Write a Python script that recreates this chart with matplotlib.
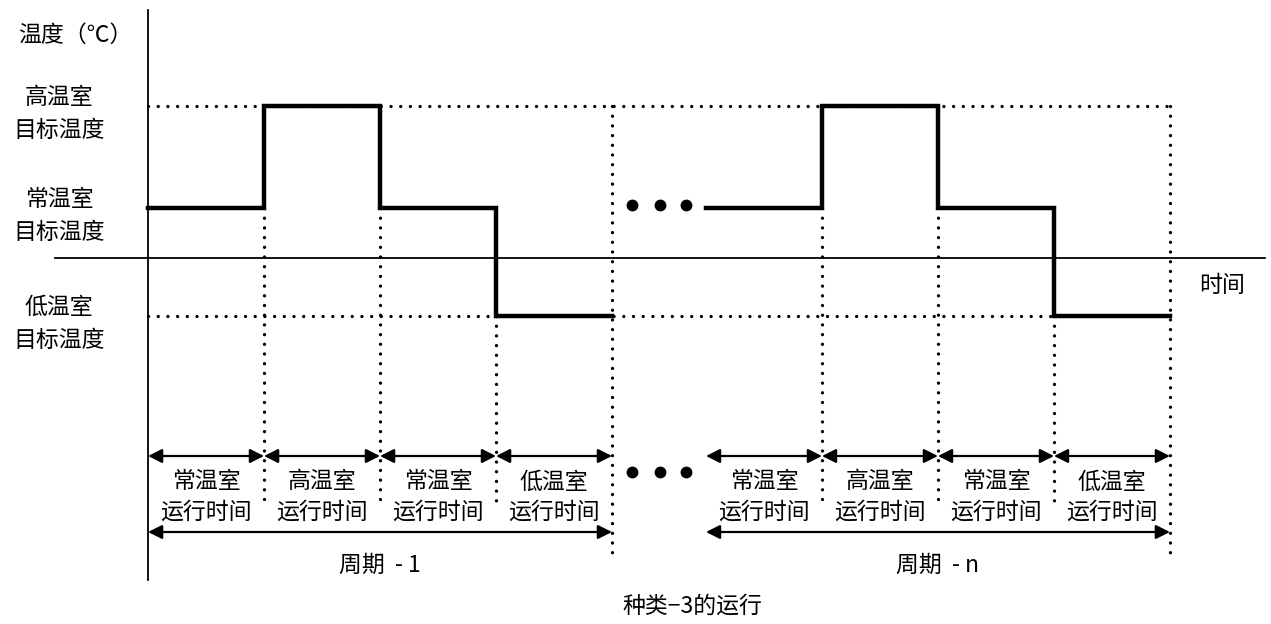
import matplotlib
matplotlib.use("Agg")
import matplotlib.pyplot as plt

plt.rcParams['font.family'] = ['Noto Sans CJK SC', 'DejaVu Sans']

#   ///////   data   ///////
# time in phase units (one phase = 1), temperature in arbitrary levels
cycle_starts = [0.0, 4.81]
phase_names = ['常温室', '高温室', '常温室', '低温室']
levels = {'high': 3.04, 'normal': 1.0, 'low': -1.16}
phase_levels = ['normal', 'high', 'normal', 'low']
cycle_labels = ['周期  - 1', '周期  - n']
level_labels = ['高温室\n目标温度', '常温室\n目标温度', '低温室\n目标温度']
ellipsis_x = [4.17, 4.41, 4.64]

# layout levels (same units)
y_arrow = -3.96
y_period = -5.48
#   ///////     ///////

fig = plt.figure(figsize=(12.71, 6.24), dpi=100)
ax = fig.add_axes([0, 0, 1, 1])
ax.set_xlim(-1.276, 9.681)
ax.set_ylim(-7.32, 5.16)
ax.axis('off')

fs = 16.5
dot = dict(color='black', lw=2.4, linestyle=(0, (0.01, 2.9)),
           dash_capstyle='round', solid_capstyle='round')
arr = dict(arrowstyle='<|-|>', color='black', lw=1.6,
           mutation_scale=21, shrinkA=0, shrinkB=0)

# axes
ax.plot([0, 0], [-6.44, 4.96], color='black', lw=1.3)
ax.plot([-0.80, 9.63], [0, 0], color='black', lw=1.3)

end = cycle_starts[-1] + 4
# dotted target lines
ax.plot([0, end], [levels['high']] * 2, **dot)
ax.plot([0, end], [levels['low']] * 2, **dot)

for c0, lab in zip(cycle_starts, cycle_labels):
    # step curve
    xs, ys = [], []
    for i, name in enumerate(phase_levels):
        xs += [c0 + i, c0 + i + 1]
        ys += [levels[name], levels[name]]
    ax.plot(xs, ys, color='black', lw=3.2, solid_joinstyle='miter')

    # dotted verticals
    for i in range(1, 4):
        top = min(levels[phase_levels[i - 1]], levels[phase_levels[i]])
        ax.plot([c0 + i] * 2, [top, -4.92], **dot)
    ax.plot([c0 + 4] * 2, [levels['high'], -5.94], **dot)

    # phase arrows and labels
    for i, name in enumerate(phase_names):
        ax.annotate('', xy=(c0 + i + 1, y_arrow), xytext=(c0 + i, y_arrow),
                    arrowprops=arr)
        ax.text(c0 + i + 0.5, -4.48, name, ha='center', va='center', fontsize=fs)
        ax.text(c0 + i + 0.5, -5.08, '运行时间', ha='center', va='center', fontsize=fs)

    ax.annotate('', xy=(c0 + 4, y_period), xytext=(c0, y_period), arrowprops=arr)
    ax.text(c0 + 2, -6.14, lab, ha='center', va='center', fontsize=fs)

# ellipsis dots
ax.plot(ellipsis_x, [1.06] * 3, 'o', color='black', ms=7.5)
ax.plot(ellipsis_x, [-4.28] * 3, 'o', color='black', ms=7.5)

# labels
ax.text(-0.63, 4.46, '温度（℃）', ha='center', va='center', fontsize=fs)
for name, lab in zip(['high', 'normal', 'low'], level_labels):
    ax.text(-0.767, levels[name] - 0.16, lab, ha='center', va='center',
            fontsize=fs, linespacing=1.55)
ax.text(9.26, -0.56, '时间', ha='center', va='center', fontsize=fs)
ax.text(4.69, -6.96, '种类−3的运行', ha='center', va='center', fontsize=fs)

fig.savefig('out.png', dpi=100)
